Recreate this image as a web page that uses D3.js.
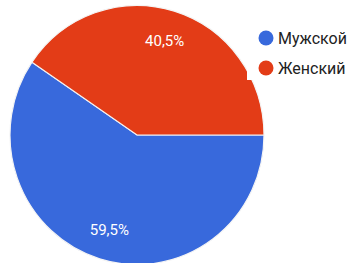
<!DOCTYPE html>
<html>
<head>
<meta charset="utf-8">
<script src="https://cdn.jsdelivr.net/npm/d3@7"></script>
<style>
  body { margin: 0; background: #fff; }
  text { font-family: Roboto, Arial, sans-serif; }
</style>
</head>
<body>
<div id="chart"></div>
<script>
// Chart data
const categories = ["Мужской", "Женский"];
const values = [59.5, 40.5];
const labels = ["59,5%", "40,5%"];
const colors = ["#3869dc", "#e33c17"];

const width = 353;
const height = 263;
const cx = 137, cy = 135, radius = 127;

const svg = d3.select("#chart")
    .append("svg")
    .attr("width", width)
    .attr("height", height);

const g = svg.append("g")
    .attr("transform", `translate(${cx},${cy}) scale(1,1.02)`);

// Blue starts at 3 o'clock, going clockwise
const pie = d3.pie()
    .sort(null)
    .value(d => d)
    .startAngle(Math.PI / 2)
    .endAngle(Math.PI / 2 + 2 * Math.PI);

const arcs = pie(values);

const arc = d3.arc().innerRadius(0).outerRadius(radius);
const labelArc = d3.arc().innerRadius(radius * 0.74).outerRadius(radius * 0.74);

g.selectAll("path")
    .data(arcs)
    .join("path")
    .attr("d", arc)
    .attr("fill", (d, i) => colors[i])
    .attr("stroke", "#f4f4f4")
    .attr("stroke-width", 1.2);

g.selectAll("text.lbl")
    .data(arcs)
    .join("text")
    .attr("class", "lbl")
    .attr("transform", d => `translate(${labelArc.centroid(d)})`)
    .attr("text-anchor", "middle")
    .attr("dy", (d, i) => i === 0 ? "0.55em" : "0.2em")
    .attr("fill", "#fff")
    .style("font-size", "15px")
    .text((d, i) => labels[i]);

// Legend on its white box (covers the pie edge)
svg.append("rect")
    .attr("x", 247)
    .attr("y", 0)
    .attr("width", width - 247)
    .attr("height", 80)
    .attr("fill", "#fff");

const legend = svg.append("g")
    .selectAll("g")
    .data(categories)
    .join("g")
    .attr("transform", (d, i) => `translate(266,${38 + i * 30})`);

legend.append("circle")
    .attr("r", 7.5)
    .attr("fill", (d, i) => colors[i]);

legend.append("text")
    .attr("x", 12)
    .attr("dy", "0.36em")
    .attr("fill", "#222")
    .style("font-size", "16px")
    .text(d => d);
</script>
</body>
</html>
